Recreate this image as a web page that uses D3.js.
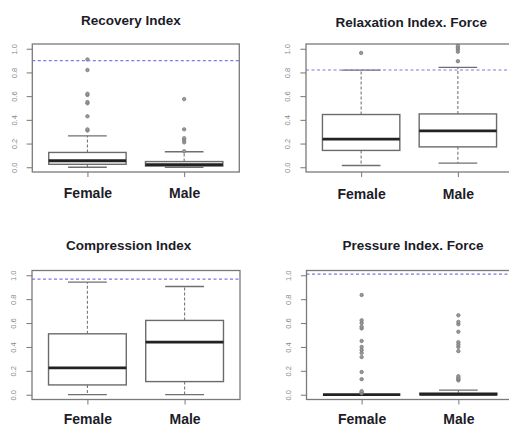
<!DOCTYPE html>
<html>
<head>
<meta charset="utf-8">
<script src="https://cdn.jsdelivr.net/npm/d3@7"></script>
<style>
  html, body { margin: 0; padding: 0; background: #fff; overflow: hidden; }
  svg { display: block; }
</style>
</head>
<body>
<svg id="chart" width="509" height="427"></svg>
<script>
// Groups compared in every panel
const groups = ["Female", "Male"];

// Panel titles
const titles = ["Recovery Index", "Relaxation Index. Force", "Compression Index", "Pressure Index. Force"];

// Five-number summaries per group: [lower whisker, Q1, median, Q3, upper whisker]
const recoveryStats = [[0, 0.025, 0.055, 0.125, 0.265], [0, 0.01, 0.022, 0.048, 0.131]];
const relaxationStats = [[0.015, 0.142, 0.238, 0.445, 0.82], [0.035, 0.172, 0.307, 0.45, 0.843]];
const compressionStats = [[0, 0.082, 0.225, 0.51, 0.943], [0, 0.11, 0.44, 0.622, 0.906]];
const pressureStats = [[0, 0, 0, 0, 0], [0, 0, 0.004, 0.013, 0.038]];

// Outlying observations per group
const recoveryOutliers = [
  [0.31, 0.32, 0.43, 0.54, 0.55, 0.61, 0.62, 0.82, 0.91],
  [0.135, 0.21, 0.23, 0.245, 0.32, 0.575]
];
const relaxationOutliers = [
  [0.965],
  [0.895, 0.975, 0.995, 1.01, 1.025]
];
const compressionOutliers = [[], []];
const pressureOutliers = [
  [0.012, 0.02, 0.03, 0.13, 0.19, 0.315, 0.35, 0.375, 0.4, 0.45, 0.555, 0.57, 0.6, 0.623, 0.835],
  [0.12, 0.13, 0.14, 0.155, 0.365, 0.4, 0.42, 0.44, 0.527, 0.59, 0.61, 0.665]
];

// Reference levels (dashed horizontal lines)
const referenceLevels = [0.9, 0.82, 0.968, 1.01];

// Y tick values
const yTicks = [0, 0.2, 0.4, 0.6, 0.8, 1.0];

// Panel frames and text placement
const layout = [
  { left: 32.3, right: 239.3, top: 44, bottom: 172, titleX: 130.8, titleY: 24.5, labelY: 197.5 },
  { left: 306, right: 513, top: 44, bottom: 172, titleX: 411.3, titleY: 27, labelY: 198.5 },
  { left: 32, right: 240, top: 270.5, bottom: 399.5, titleX: 128.7, titleY: 250, labelY: 423.8 },
  { left: 306.5, right: 513.5, top: 270.5, bottom: 399.5, titleX: 413, titleY: 249.5, labelY: 423.8 }
];

const stats = [recoveryStats, relaxationStats, compressionStats, pressureStats];
const outliers = [recoveryOutliers, relaxationOutliers, compressionOutliers, pressureOutliers];

const svg = d3.select("#chart");
const fontFamily = "'Liberation Sans', Arial, sans-serif";

layout.forEach((L, p) => {
  const g = svg.append("g");
  const x = d3.scaleLinear().domain([0.43, 2.57]).range([L.left, L.right]);
  const y = d3.scaleLinear().domain([-0.04, 1.04]).range([L.bottom, L.top]);

  // Title
  g.append("text")
    .attr("x", L.titleX).attr("y", L.titleY)
    .attr("text-anchor", "middle")
    .attr("font-family", fontFamily)
    .attr("font-weight", "bold")
    .attr("font-size", "13.5px")
    .attr("fill", "#1c1c28")
    .text(titles[p]);

  // Y axis
  const yAxis = g.append("g")
    .attr("transform", `translate(${L.left},0)`)
    .call(d3.axisLeft(y).tickValues(yTicks).tickSize(5.6).tickFormat(d3.format(".1f")));
  yAxis.select(".domain").remove();
  yAxis.selectAll(".tick line").attr("stroke", "#777").attr("stroke-width", 1);
  yAxis.selectAll(".tick text")
    .attr("x", 0).attr("dy", 0)
    .attr("text-anchor", "middle")
    .attr("transform", "translate(-15.6,0) rotate(-90)")
    .attr("font-family", fontFamily)
    .attr("font-size", "7.5px")
    .attr("fill", "#888");

  // X axis with group names
  const xAxis = g.append("g")
    .attr("transform", `translate(0,${L.bottom})`)
    .call(d3.axisBottom(x).tickValues([1, 2]).tickSize(5).tickPadding(L.labelY - L.bottom - 5 - 9.9)
      .tickFormat(i => groups[i - 1]));
  xAxis.select(".domain").remove();
  xAxis.selectAll(".tick line").attr("stroke", "#777").attr("stroke-width", 1);
  xAxis.selectAll(".tick text")
    .attr("font-family", fontFamily)
    .attr("font-weight", "bold")
    .attr("font-size", "14px")
    .attr("fill", "#1c1c28");

  // Boxes
  groups.forEach((name, i) => {
    const c = i + 1;
    const [lo, q1, med, q3, hi] = stats[p][i];
    const bg = g.append("g");

    // Whiskers
    bg.append("line")
      .attr("x1", x(c)).attr("x2", x(c)).attr("y1", y(q3)).attr("y2", y(hi))
      .attr("stroke", "#777").attr("stroke-width", 1.1).attr("stroke-dasharray", "3,2");
    bg.append("line")
      .attr("x1", x(c)).attr("x2", x(c)).attr("y1", y(q1)).attr("y2", y(lo))
      .attr("stroke", "#777").attr("stroke-width", 1.1).attr("stroke-dasharray", "3,2");

    // Staples
    [lo, hi].forEach(v => {
      bg.append("line")
        .attr("x1", x(c - 0.2)).attr("x2", x(c + 0.2)).attr("y1", y(v)).attr("y2", y(v))
        .attr("stroke", "#6f6f6f").attr("stroke-width", 1.3);
    });

    // Box
    bg.append("rect")
      .attr("x", x(c - 0.4)).attr("width", x(c + 0.4) - x(c - 0.4))
      .attr("y", y(q3)).attr("height", Math.max(0, y(q1) - y(q3)))
      .attr("fill", "#fff").attr("stroke", "#6b6b6b").attr("stroke-width", 1.4);

    // Median
    bg.append("line")
      .attr("x1", x(c - 0.4)).attr("x2", x(c + 0.4)).attr("y1", y(med)).attr("y2", y(med))
      .attr("stroke", "#222").attr("stroke-width", 2.8);

    // Outliers
    bg.selectAll("circle").data(outliers[p][i]).enter().append("circle")
      .attr("cx", x(c)).attr("cy", d => y(d)).attr("r", 1.7)
      .attr("fill", "#9a9a9a").attr("stroke", "#777").attr("stroke-width", 0.8);
  });

  // Reference level
  g.append("line")
    .attr("x1", L.left).attr("x2", L.right)
    .attr("y1", y(referenceLevels[p])).attr("y2", y(referenceLevels[p]))
    .attr("stroke", "#7a7ae8").attr("stroke-width", 1.1).attr("stroke-dasharray", "3,2.5");

  // Frame
  g.append("rect")
    .attr("x", L.left).attr("y", L.top)
    .attr("width", L.right - L.left).attr("height", L.bottom - L.top)
    .attr("fill", "none").attr("stroke", "#7a7a7a").attr("stroke-width", 1.3);
});
</script>
</body>
</html>
